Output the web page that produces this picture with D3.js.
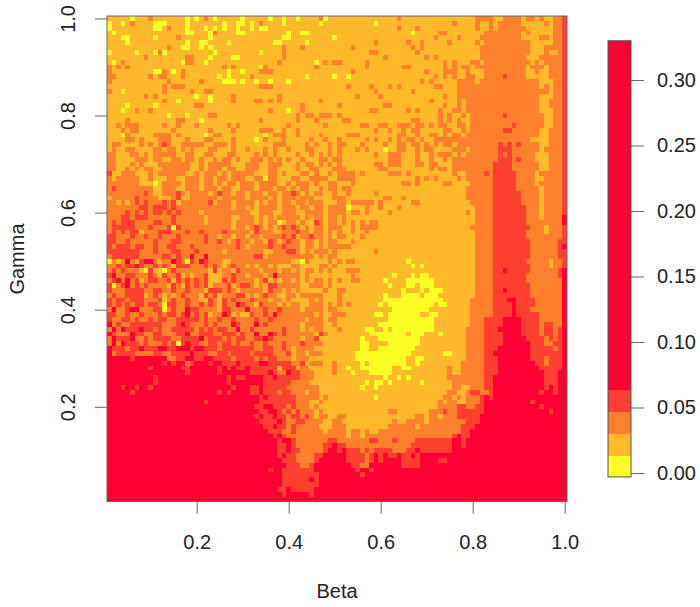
<!DOCTYPE html>
<html>
<head>
<meta charset="utf-8">
<script src="https://cdn.jsdelivr.net/npm/d3@7"></script>
<style>
  html, body { margin: 0; padding: 0; background: #fff; }
  svg { display: block; }
  text { font-family: "Liberation Sans", Arial, sans-serif; font-size: 20px; fill: #222; }
</style>
</head>
<body>
<div id="container"></div>
<script>
// levels, top row (gamma = 1.00) first, beta 0.01 to 1.00 left to right
// 0 yellow, 1 light orange, 2 orange, 3 red-orange, 4 red
const gridRows = [
"1111101112 1111111010 1210111110 1111101101 1011112011 1111111111 1112111111 1111111111 2222112222 1221211223",
"0110121111 0001111011 1111101100 1012111101 1111110111 1111111101 1111111111 1111121111 2112122222 1111121223",
"0111111111 0012111011 1010101101 1010011111 1111111111 1111111111 1112111211 1111111111 2112122222 2111111223",
"1011111111 1111111001 1102111100 1111111110 1100111111 1111111111 1111110111 1122111111 1122222222 1211111223",
"1110011111 0111121111 1101111111 1111111100 1111111110 1111111111 1111111111 1211112111 1222222222 1111221223",
"1111011111 1111111011 0011110111 1111110011 1110111111 1111111121 1111121121 1111211111 2122222222 2211111223",
"1111111111 1112110011 0101111111 1111111121 1121111111 1112111111 1111112121 1111111111 1222222222 2211122223",
"0111110111 0201111111 1110111111 1110111121 1111111111 1111111221 1111111211 1111111111 1222222222 2211121123",
"1111111121 1111111221 1101111001 1111111121 1111111111 1111111111 2111111112 1211111111 1222222222 2111222223",
"1012111111 1111110221 1011111111 1111111211 1111101212 2111112111 1111111111 1112121112 2122222222 2212122223",
"2121211111 1111111111 1111121211 1110211111 1111121111 1111112111 1111221111 1112121221 2222222222 2122212223",
"2111111111 0021012111 1111110110 1112221111 1111111111 1112111111 1111111112 1112221121 1122222222 2112112223",
"2211111112 1221112111 1111010111 1211111111 1110111110 1101111111 1111111111 1212121122 1122223222 2111112223",
"2111111111 1112111111 2111100010 1101101110 1111111111 1111111111 1111111121 2111112222 1222222222 2222111223",
"1111111111 1121222111 1111111111 1112221111 1111111111 1121111211 1212111111 1221112222 2222222222 2222121223",
"2110111111 1121111121 1221111111 1111111111 1111111111 1111111121 1111112111 1111112222 2222222222 2222221223",
"1111111121 2111111110 1101111211 1111111211 1111111111 1111211112 1111111111 1112112222 2222222222 2222111223",
"1111111111 1121101111 1101111211 1122121211 1111112111 1111111111 1111111111 2111112122 2222222222 2222112223",
"1111011111 0111111112 2111111111 1111111111 1121111111 2111111111 2211111111 1112112122 2222222222 2222112223",
"1110112112 1111111111 1111111111 1111121110 1121111111 1111111221 1111121211 1121122122 2222222222 2222111223",
"1111111111 1110111011 1122111111 1111111111 1212212221 2111111111 1111111111 1121211212 2222223222 2222211223",
"1111211111 1111122111 0111111111 1112111111 1211121111 1221111111 1111112211 1121212112 2222222222 2222211223",
"1121222111 1121121112 1111112121 1111111112 1111111211 1111122112 2112221221 2122112212 2222222232 2222211223",
"1112122111 1111211111 1121111211 1112221121 1211111111 1111111121 1211212211 1112211212 2222223322 2222112223",
"1110211111 2222121111 1012211111 1111012221 1211112111 1122211111 1112211211 2212122122 2222222222 2222112223",
"1111221211 1222111211 1221111211 1101211121 1111211211 2111112121 1212122121 1222222222 2222222222 2211112223",
"1221111212 1232112222 2112221211 1111112221 1112121121 2211121111 2112212212 1212212222 2222232323 2222112223",
"1211221111 2212212121 1122111211 2111212112 1112211121 2111212111 0112211212 2111122212 2222233322 2222122223",
"2211122121 2222211221 1221112211 1121212111 1211212121 2111111121 1222111211 2122212122 2222232322 2221112223",
"2211112221 2211221221 2112122121 1222121212 1121112212 2111111111 1222111211 2112122222 2222233323 2221112223",
"2211121211 1222222211 2122222111 2221122211 1212212121 2111111122 1222111221 2211122222 2222333322 2222112223",
"2211212122 1122222211 2122212211 2221122111 1211221112 2211111112 2111111111 2122122222 2222333322 2222112223",
"3112221112 1222222112 1222121222 2211122121 1122121121 2222121111 1222121111 1111121122 2232333332 2221222223",
"2122222112 1112211222 1221221222 1122022111 2211222211 2222111111 1111111212 1211112122 2222333332 2221122223",
"2222222111 0122221222 1221212212 2212222112 1222121122 1112111111 1111221211 1112211112 2222333332 2221222223",
"2322222222 1122211222 1222122112 2212221221 2122112122 1221111111 1111111111 1111111122 2222333332 2222122223",
"2222222232 1122232122 2212322122 1222122122 3212122112 1121111121 1111111111 1111111122 2222333333 2222122223",
"1222223222 2111231122 2222122222 1222212122 2122211112 2211111111 2211211111 1111111122 2222333333 2222122223",
"2212123232 2232312222 2231222122 2212122122 1221222111 2212222212 1111112211 1111111112 2222333333 2222122223",
"2222222332 3332322222 2222222122 1212222122 2122122122 2201112112 1112111111 1111111111 2222333333 3222122223",
"2222323232 3323232222 1222222222 2112221122 2112222122 2212212111 1211111111 1111111121 2222333333 3222122223",
"2223323332 2222322222 2122222112 2212121222 2212122122 1211111111 1111111111 1111111111 2222333333 3222122224",
"2323332222 3322322222 2122222122 2212122012 2121132122 1212121221 1111111111 1111111111 2222333333 3222222224",
"2333332223 2223032222 2222222122 1232121232 3212122122 2112122221 1111111111 1111111112 2222333333 3322212223",
"2323233122 2333222322 3222232222 2132221122 2322122121 2112112111 1111111111 1111111111 2222333333 3222212223",
"3322232232 2322232222 2322122122 1221222232 3122322121 2211121111 1111111111 1111111111 2222333333 3222222223",
"3322322222 3222332222 2322321232 2122132123 2212212122 1112111111 1111111111 1111111111 2222333333 3322222233",
"3233323322 3223322232 2222222232 1222232232 2212212122 2221111111 1111111111 1111111111 2222333333 3322222234",
"3333333222 3222332223 2222212222 2222112223 3212122212 1111111121 1111111111 1111111111 2222333333 3322222233",
"2333333222 2233232242 2422222222 2233122222 2222212122 1111111111 1111111111 1111111111 2222333333 3322222233",
"0212421344 2122432032 4322211222 2222222222 1102111121 2122111111 1111101111 1111111111 2222333333 3222221223",
"2232334322 3232133322 2323212322 1212212111 2211112212 1111111111 1111110101 1111111111 2222333333 3322221223",
"2323222103 1102322222 2213122132 2221222122 1212212121 1122211111 1111111111 1111111111 2222334333 3322222234",
"3422332223 2132231212 2311122322 1222124222 2212111111 1112111111 1101110100 1111111111 2222333333 3222222234",
"2342423123 3223132323 2311132322 2212312122 1212122121 2112211111 0111100000 0111111111 2222333333 3222222224",
"3023423232 2221321323 2312223123 3212133222 2211222121 1111111111 1011100100 0111111111 2222333333 3322222224",
"3222333322 3322322322 2133323212 2222132212 1211111211 2211111111 1111011101 0001111111 2222334333 3322222224",
"2322333312 3212123222 1323122233 1212322112 2122222111 2111111111 0111000010 0011111111 2222333333 3322222224",
"3233233322 2312322322 1132132322 2322212212 1111212111 2111111111 0000000000 0001111112 2222333443 3332222224",
"3232323323 3203322322 3232132243 2213222121 2211222121 2121111110 1000000000 0100111112 2222333343 3332222224",
"2422344222 3302322433 2222133222 4222322322 2212222122 1111111111 1100000000 1111111112 2222333343 3322222224",
"3322322322 2323323423 2312243121 1322324222 2222212112 2211111100 1000000011 0011111112 2222333343 3333222224",
"3223323223 2332233333 2322322322 2232232222 2221222122 1111111111 1000000000 0111111112 2233334444 3333222224",
"4232233333 3322234322 2323222432 2242322222 2212222112 1111111110 0000000000 0111111112 2233334444 3333233224",
"2424333433 2322333332 3232332242 2322222232 2212122111 2111110011 0100000000 0111111122 2233344444 3333233234",
"4322243322 3322233422 3332233323 2242243232 2222213211 1111111000 0000010001 1101111122 2233334444 3333233234",
"2433342232 3333223333 4233323233 2233432222 2212231111 1111101110 0000000011 1111111122 2233334444 4333323234",
"2424333232 2232303433 2233233232 2322322232 2232222111 1111100111 1000000011 1111111122 2233334444 4433322334",
"4333233433 3443344434 4333233333 3322332232 1222211111 1111100110 0000000111 1111111122 2233344444 4433333234",
"4233332222 3322333343 3322332333 3233332223 1221222111 1111000000 0000001111 1110011122 2233444444 4433333334",
"4444434444 4442233443 3443333233 3323233222 1222111111 1111000000 0000011001 1111111122 2233344444 4433323334",
"4444444444 4434344234 4434433343 3334433333 2231222112 1111101000 0000011011 1111111222 2233344444 4443323334",
"4444444443 4444443344 4444343433 4333333133 3122111112 1101100000 0011001111 1111211222 2233344444 4444333334",
"4444444444 4444444344 4444344444 4333343224 3322211112 1110111000 0011111111 1111211222 2233344444 4444433344",
"4444444444 3444444444 4444443433 4444334333 3322211111 1111111111 0110101111 1111222222 2233444444 4444433344",
"4444444444 3444444444 4444443444 4444333333 2222111111 1111110100 1011111101 1111122222 2233444444 4444433344",
"4443443443 4444444444 4444444344 4334333332 2222221111 1111101101 1111111111 1111122112 2233444444 4444434344",
"4444434444 4444444444 4444343444 4334333233 2221221111 1111111111 1111111111 1111221123 3223444444 4444344344",
"4444444444 4444444444 4444444444 4443433333 3222221211 1111111101 1111111111 1112212122 2343444444 4444444444",
"4444444444 4444444444 4344444444 4443333333 3222112111 1111111111 1111111111 1121221122 2344444444 4434444444",
"4444444444 4444444444 4444444444 4433443332 3222121111 1111111111 1111111111 1122223322 3344444444 4444344444",
"4444444444 4444444444 4444444444 4443344323 2322212111 1111111111 1221111111 2223223333 3344444444 4444443444",
"4444444444 4444444444 4444444444 4434334332 3323212211 2211111111 1111111221 2212223333 3444444444 4444444444",
"4444444444 4444444444 4444444444 4443333432 2332222112 2111111111 1121122221 2222222233 3444444444 4444444444",
"4444444444 4444444444 4444444444 4444334332 3222221112 2211111111 1222222122 2222222333 4444444444 4444444444",
"4444444444 4444444444 4444444444 4444433322 3222222122 2212212112 2222222222 2222222334 4444444444 4444444444",
"4444444444 4444444444 4444444444 4444443432 2222222222 2212212222 2222222222 2222234334 4444444444 4444444444",
"4444444444 4444444444 4444444444 4444444344 3222222233 2222222332 2232222333 3333344344 4444444444 4444444444",
"4444444444 4444444444 4444444444 4444444334 3222222334 3322222222 2222223333 3333344344 4444444444 4444444444",
"4444444444 4444444444 4444444444 4444444334 3322222344 3433323233 3322233433 3333344444 4444444444 4444444444",
"4444444444 4444444444 4444444444 4444444343 3222233444 4433332343 4334334344 4444444444 4444444444 4444444444",
"4444444444 4444444444 4444444444 4444444433 3222234444 4433332343 4444333344 4433444444 4444444444 4444444444",
"4444444444 4444444444 4444444444 4444444443 3322344444 4443322444 4444333344 4444444444 4444444444 4444444444",
"4444444444 4444444444 4444444444 4444434433 3333344444 4444344344 4444444444 4444444444 4444444444 4444444444",
"4444444444 4444444444 4444444444 4444444433 3333334444 4444434444 4444444444 4444444444 4444444444 4444444444",
"4444444444 4444444444 4444444444 4444444433 3333434444 4444444444 4444444444 4444444444 4444444444 4444444444",
"4444444444 4444444444 4444444444 4444444433 3333334444 4444444444 4444444444 4444444444 4444444444 4444444444",
"4444444444 4444444444 4444444444 4444444334 3333344444 4444444444 4444444444 4444444444 4444444444 4444444444",
"4444444444 4444444444 4444444444 4444444434 4444344444 4444444444 4444444444 4444444444 4444444444 4444444444",
"4444444444 4444444444 4444444444 4444444444 4444444444 4444444444 4444444444 4444444444 4444444444 4444444444"
];

const levelValues = [0.005, 0.02, 0.04, 0.055, 0.2];
const levelColors = ["#FFFF26", "#FFB92B", "#FF802B", "#FF4030", "#FF0033"];
const colorBreaks = [0.0135, 0.03, 0.047, 0.064];
const xTicks = [0.2, 0.4, 0.6, 0.8, 1.0];
const yTicks = [0.2, 0.4, 0.6, 0.8, 1.0];
const barTicks = [0, 0.05, 0.10, 0.15, 0.20, 0.25, 0.30];
const zLimits = [-0.003, 0.33];
const nBarBins = 20;

const width = 700;
const height = 607;

const svg = d3.create("svg")
    .attr("width", width)
    .attr("height", height);

const x = d3.scaleLinear().domain([0.005, 1.005]).range([107, 567]);
const y = d3.scaleLinear().domain([0.005, 1.005]).range([501.5, 16]);
const color = d3.scaleThreshold().domain(colorBreaks).range(levelColors);

// turn the strings into cells
const cells = [];
gridRows.forEach((row, r) => {
    row.replace(/ /g, "").split("").forEach((ch, c) => {
        cells.push({ beta: (c + 1) / 100, gamma: (100 - r) / 100, z: levelValues[+ch] });
    });
});

svg.append("g")
    .attr("shape-rendering", "crispEdges")
    .selectAll()
    .data(cells)
    .join("rect")
    .attr("x", d => x(d.beta - 0.005))
    .attr("y", d => y(d.gamma + 0.005))
    .attr("width", d => x(d.beta + 0.005) - x(d.beta - 0.005))
    .attr("height", d => y(d.gamma - 0.005) - y(d.gamma + 0.005))
    .attr("fill", d => color(d.z));

// plot box
svg.append("rect")
    .attr("x", 107).attr("y", 16)
    .attr("width", 460).attr("height", 485.5)
    .attr("fill", "none")
    .attr("stroke", "#666");

svg.append("g")
    .attr("transform", "translate(0,501.5)")
    .call(d3.axisBottom(x).tickValues(xTicks).tickFormat(d3.format(".1f")).tickSizeInner(12).tickSizeOuter(0).tickPadding(21));

const yAxis = svg.append("g")
    .attr("transform", "translate(107,0)")
    .call(d3.axisLeft(y).tickValues(yTicks).tickFormat(d3.format(".1f")).tickSizeInner(12).tickSizeOuter(0));

// R draws the y labels turned
yAxis.selectAll(".tick text")
    .attr("text-anchor", "middle")
    .attr("x", 0)
    .attr("y", 0)
    .attr("dy", 0)
    .attr("transform", "translate(-32,0) rotate(-90)");

svg.append("text")
    .attr("x", 337).attr("y", 598)
    .attr("text-anchor", "middle")
    .text("Beta");

svg.append("text")
    .attr("transform", "translate(24,259) rotate(-90)")
    .attr("text-anchor", "middle")
    .text("Gamma");

// colour bar
const barY = d3.scaleLinear().domain([0, 0.30]).range([473, 80]);
const barStep = (zLimits[1] - zLimits[0]) / nBarBins;
const barBins = d3.range(nBarBins).map(i => zLimits[0] + i * barStep);

svg.append("g")
    .attr("shape-rendering", "crispEdges")
    .selectAll()
    .data(barBins)
    .join("rect")
    .attr("x", 608)
    .attr("width", 23)
    .attr("y", d => barY(d + barStep))
    .attr("height", d => barY(d) - barY(d + barStep) + 0.5)
    .attr("fill", d => color(d + barStep / 2));

svg.append("rect")
    .attr("x", 608).attr("y", barY(zLimits[1]))
    .attr("width", 23).attr("height", barY(zLimits[0]) - barY(zLimits[1]))
    .attr("fill", "none")
    .attr("stroke", "#555");

svg.append("g")
    .attr("transform", "translate(631,0)")
    .call(d3.axisRight(barY).tickValues(barTicks).tickFormat(d3.format(".2f")).tickSizeInner(13).tickSizeOuter(0).tickPadding(13));

// axis styling, R look
svg.selectAll(".domain").attr("stroke", "none");
svg.selectAll(".tick line").attr("stroke", "#666");
svg.selectAll(".tick text").style("font-size", "20px").style("font-family", '"Liberation Sans", Arial, sans-serif').attr("fill", "#222");

document.getElementById("container").appendChild(svg.node());
</script>
</body>
</html>
